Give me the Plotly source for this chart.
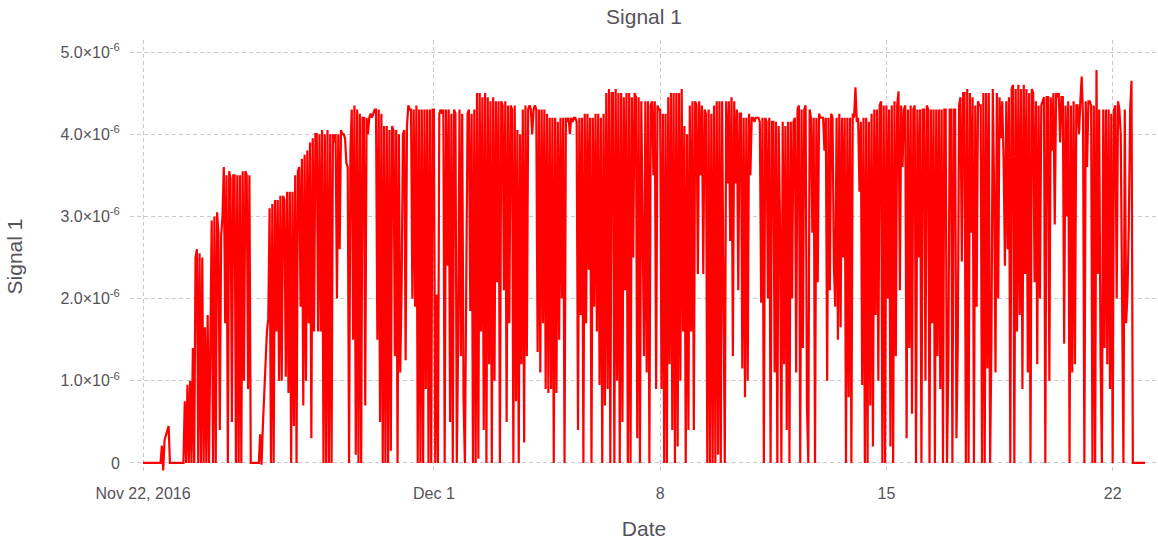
import pandas as pd
import plotly.graph_objects as go

# Hourly readings of Signal 1, in units of 1e-6, one list per day
nov22 = [0, 0, 0, 0, 0, 0, 0, 0, 0, 0, 0, 0, 0, 0, 0.21, -0.09, 0.28, 0.33, 0.40, 0.45, 0, 0, 0, 0]
nov23 = [0, 0, 0, 0, 0, 0, 0, 0.75, 0, 0.95, 0, 1.0, 0, 1.4, 0, 2.5, 2.6, 0, 2.55, 0, 2.5, 0, 1.65, 0]
nov24 = [1.8, 0, 1.9, 2.95, 0, 3.0, 0, 3.05, 2.8, 0.4, 2.75, 3.0, 3.6, 1.7, 3.5, 0, 3.55, 3.45, 0.5, 3.5, 3.5, 0, 3.5, 0]
nov25 = [3.5, 0, 3.55, 1.0, 3.55, 3.5, 0.9, 3.5, 0, 0, 0, 0, 0, 0, 0, 0.35, -0.02, 0.45, 0.9, 1.35, 1.6, 1.75, 3.1, 0]
nov26 = [3.15, 0, 3.2, 1.6, 3.2, 1.0, 3.25, 1.0, 3.25, 3.2, 1.05, 3.3, 0.85, 3.3, 0, 3.3, 0.45, 3.5, 0, 3.55, 3.6, 1.9, 3.7, 0.7]
nov27 = [3.75, 1.0, 3.8, 1.7, 3.9, 0.3, 3.95, 1.6, 4.0, 4.0, 1.6, 4.0, 1.6, 4.05, 0, 4.0, 0, 4.05, 0, 4.0, 0, 4.0, 3.9, 4.0]
nov28 = [2.0, 4.0, 2.6, 4.05, 4.0, 4.0, 3.95, 3.65, 3.6, 0, 3.8, 4.3, 1.5, 4.35, 0.1, 4.3, 0, 4.25, 0, 4.2, 4.2, 0.7, 4.2, 4.0]
nov29 = [4.2, 4.25, 4.2, 4.25, 4.3, 4.3, 1.5, 4.3, 0.5, 4.25, 0, 4.1, 0, 4.1, 0, 4.05, 0.15, 4.1, 4.05, 1.3, 4.05, 0, 4.0, 1.1]
nov30 = [2.1, 4.0, 4.05, 1.25, 4.1, 4.35, 4.3, 4.3, 2.0, 4.3, 1.9, 4.35, 0, 4.3, 0, 4.3, 0, 4.3, 0.9, 4.3, 0, 4.3, 0, 4.3]
dec01 = [4.3, 0, 2.05, 0, 4.25, 4.3, 4.25, 4.3, 0, 4.3, 2.4, 4.3, 0.5, 4.25, 0, 4.3, 4.25, 0, 1.5, 4.3, 1.3, 4.25, 0.8, 0]
dec02 = [2.0, 4.25, 4.3, 1.85, 4.25, 0, 4.3, 0, 4.5, 0.05, 4.5, 1.6, 4.45, 0.4, 4.5, 0, 4.45, 1.2, 4.4, 0, 4.45, 1.0, 4.4, 2.2]
dec03 = [4.4, 0, 4.4, 4.35, 2.1, 4.4, 0.5, 4.35, 1.7, 4.35, 4.3, 0, 4.35, 0.75, 4.05, 0, 4.0, 1.2, 4.3, 0.25, 4.35, 1.3, 4.3, 4.35]
dec04 = [4.3, 4.0, 4.3, 4.35, 4.3, 1.35, 4.3, 1.1, 4.3, 1.7, 4.3, 0.9, 4.25, 0.85, 4.2, 0.9, 4.2, 0, 4.2, 0.85, 4.15, 1.5, 4.2, 2.0]
dec05 = [4.2, 0, 4.2, 4.15, 4.2, 4.0, 4.2, 4.15, 4.2, 4.2, 4.15, 0.4, 4.2, 1.8, 4.2, 0, 4.25, 1.7, 4.25, 2.35, 4.2, 0, 4.2, 1.9]
dec06 = [4.25, 1.6, 4.25, 0.95, 4.2, 0, 4.25, 0.7, 4.5, 0.9, 4.55, 0, 4.5, 4.5, 0, 4.55, 1.0, 4.5, 0, 4.5, 0.5, 4.45, 2.1, 4.5]
dec07 = [0, 4.5, 0, 4.45, 2.5, 4.5, 4.45, 0.3, 4.45, 0, 4.4, 2.5, 1.3, 4.4, 1.1, 4.4, 0, 4.35, 4.4, 3.5, 4.4, 0.9, 4.35, 4.3]
dec08 = [4.3, 0.9, 4.25, 0, 4.25, 0, 4.45, 1.2, 4.5, 0.4, 4.5, 0, 4.5, 0.2, 4.5, 1.0, 4.55, 1.6, 4.1, 0, 4.0, 0.4, 4.35, 1.6]
dec09 = [4.4, 0.4, 4.4, 4.35, 2.3, 4.4, 3.5, 4.35, 2.3, 4.3, 4.25, 0, 4.3, 0, 4.25, 0, 4.35, 0, 4.4, 0.1, 4.4, 0, 4.4, 2.1]
dec10 = [0, 4.4, 3.4, 4.4, 2.7, 4.45, 1.3, 4.4, 3.4, 4.3, 2.1, 4.25, 4.25, 1.15, 4.2, 0.8, 4.2, 1.0, 4.25, 3.5, 4.2, 4.2, 4.15, 4.2]
dec11 = [4.2, 4.2, 4.15, 1.95, 4.2, 0, 4.2, 4.15, 2.0, 4.2, 0, 4.15, 4.15, 1.1, 4.15, 0, 4.1, 2.9, 0, 4.15, 1.2, 4.1, 0.4, 4.15]
dec12 = [0, 4.15, 2.0, 4.15, 4.2, 1.1, 4.3, 4.35, 0, 4.3, 1.4, 4.3, 4.35, 0.7, 0, 4.3, 4.2, 2.8, 4.2, 0, 4.2, 2.2, 4.25, 4.2]
dec13 = [4.2, 4.2, 3.8, 4.2, 1.0, 4.2, 2.1, 4.25, 4.2, 2.4, 1.9, 4.2, 1.5, 4.25, 1.65, 4.2, 2.5, 4.2, 0, 4.2, 0.8, 4.2, 0, 4.25]
dec14 = [4.2, 4.57, 4.15, 4.2, 3.3, 4.15, 0.95, 4.2, 0, 4.2, 0, 4.15, 0.7, 4.25, 0.2, 4.3, 1.8, 4.3, 1.0, 4.35, 4.4, 0, 4.35, 0]
dec15 = [4.35, 2.0, 4.3, 0.2, 4.35, 0, 4.4, 1.3, 4.35, 4.52, 2.1, 4.35, 3.6, 4.3, 4.35, 0.3, 4.3, 1.4, 4.35, 0.6, 4.3, 4.35, 0, 4.3]
dec16 = [2.5, 4.3, 0, 4.3, 4.3, 1.0, 4.35, 4.3, 0, 4.3, 1.7, 4.3, 0, 4.3, 1.3, 4.3, 0.9, 4.3, 0, 4.3, 4.3, 0, 1.2, 4.3]
dec17 = [4.3, 0, 4.3, 4.3, 0.3, 1.45, 4.35, 4.45, 2.45, 4.5, 4.5, 0, 4.55, 0, 4.5, 2.8, 4.45, 0, 4.35, 1.9, 4.4, 4.35, 4.35, 0]
dec18 = [4.5, 0, 4.5, 1.15, 4.5, 0, 1.5, 4.55, 3.3, 1.1, 4.5, 2.0, 4.45, 3.95, 4.4, 3.7, 2.4, 4.4, 2.6, 4.45, 0, 4.55, 4.6, 0]
dec19 = [4.55, 1.6, 4.6, 1.8, 4.55, 0.9, 4.6, 2.3, 4.55, 1.1, 4.5, 0, 4.55, 4.5, 2.2, 4.4, 1.2, 4.35, 2.0, 4.35, 4.4, 4.45, 0, 4.45]
dec20 = [4.45, 1.0, 4.45, 3.8, 4.5, 2.9, 4.5, 4.45, 4.5, 3.9, 4.45, 4.45, 1.45, 4.35, 3.0, 4.4, 0, 4.35, 1.1, 4.4, 1.2, 4.35, 4.35, 4.0]
dec21 = [4.4, 4.7, 4.2, 0, 4.4, 3.6, 4.4, 4.4, 4.35, 0, 4.35, 0, 4.78, 2.3, 4.3, 1.3, 0, 4.3, 1.4, 4.3, 1.2, 4.3, 0.9, 4.25]
dec22 = [0, 4.3, 4.35, 2.0, 4.4, 4.3, 4.0, 1.95, 0, 4.3, 1.7, 2.05, 2.9, 4.3, 4.65, 0, 0, 0, 0, 0, 0, 0, 0, 0]
dec23 = [0]

days = [nov22, nov23, nov24, nov25, nov26, nov27, nov28, nov29, nov30,
        dec01, dec02, dec03, dec04, dec05, dec06, dec07, dec08, dec09, dec10,
        dec11, dec12, dec13, dec14, dec15, dec16, dec17, dec18, dec19, dec20,
        dec21, dec22, dec23]

signal_micro = [v for day in days for v in day]
signal = [v * 1e-6 for v in signal_micro]
dates = pd.date_range("2016-11-22 00:00", periods=len(signal), freq="h")

# Axis ticks
y_tick_vals = [0, 1e-6, 2e-6, 3e-6, 4e-6, 5e-6]
y_tick_text = ["0", "1.0×10<sup>-6</sup>", "2.0×10<sup>-6</sup>", "3.0×10<sup>-6</sup>",
               "4.0×10<sup>-6</sup>", "5.0×10<sup>-6</sup>"]
x_tick_vals = ["2016-11-22", "2016-12-01", "2016-12-08", "2016-12-15", "2016-12-22"]
x_tick_text = ["Nov 22, 2016", "Dec 1", "8", "15", "22"]

text_color = "#56525a"
grid_color = "#c9c9cf"
font_family = "Liberation Sans, Arial, sans-serif"

fig = go.Figure(
    go.Scatter(
        x=dates,
        y=signal,
        mode="lines",
        line=dict(color="#ff0000", width=2.2),
        name="Signal 1",
        showlegend=False,
    )
)

fig.update_layout(
    width=1158,
    height=540,
    margin=dict(l=130, r=0, t=40, b=67),
    paper_bgcolor="white",
    plot_bgcolor="white",
    font=dict(family=font_family, color=text_color, size=16),
    title=dict(
        text="Signal 1",
        x=0.5,
        xref="paper",
        xanchor="center",
        y=1 - 17 / 540,
        yref="container",
        yanchor="middle",
        font=dict(size=21, color=text_color, family=font_family),
    ),
    xaxis=dict(
        title=dict(text="Date", font=dict(size=21), standoff=22),
        type="date",
        range=["2016-11-21 14:20", "2016-12-23 09:40"],
        tickmode="array",
        tickvals=x_tick_vals,
        ticktext=x_tick_text,
        ticks="outside",
        ticklen=6,
        tickcolor="rgba(0,0,0,0)",
        showgrid=True,
        gridcolor=grid_color,
        griddash="4px,3px",
        gridwidth=1,
        zeroline=False,
        showline=False,
        tickfont=dict(size=16, color=text_color),
    ),
    yaxis=dict(
        title=dict(text="Signal 1", font=dict(size=21), standoff=32),
        range=[-0.122e-6, 5.146e-6],
        tickmode="array",
        tickvals=y_tick_vals,
        ticktext=y_tick_text,
        ticks="outside",
        ticklen=6,
        tickcolor="rgba(0,0,0,0)",
        showgrid=True,
        gridcolor=grid_color,
        griddash="4px,3px",
        gridwidth=1,
        zeroline=False,
        showline=False,
        tickfont=dict(size=16, color=text_color),
    ),
)

fig.write_html("out.html")
